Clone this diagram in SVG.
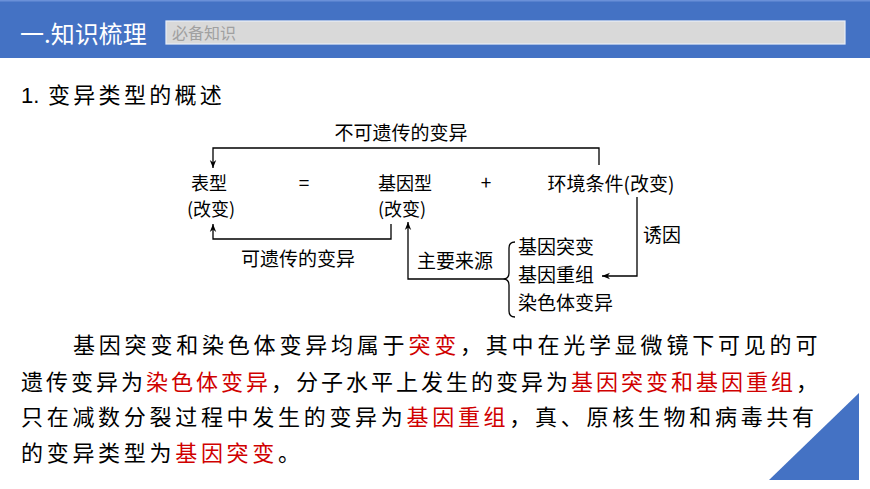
<svg xmlns="http://www.w3.org/2000/svg" width="870" height="489" viewBox="0 0 870 489">
<style>
.cjk{font-family:"Noto Sans CJK SC","Noto Sans",sans-serif;}
.d{font-family:"Noto Sans CJK SC",sans-serif;font-size:19px;fill:#000;}
.p{font-family:"Noto Sans CJK SC",sans-serif;font-size:22px;fill:#000;}
.r{fill:#D00000;}
.ln{fill:none;stroke:#000;stroke-width:1.3;}
</style>
<defs>
<marker id="ah" viewBox="0 0 10 10" refX="10" refY="5" markerWidth="8" markerHeight="8" markerUnits="userSpaceOnUse" orient="auto">
<path d="M0,1 L10,5 L0,9 L3,5 Z" fill="#000"/>
</marker>
</defs>
<rect x="0" y="0" width="870" height="489" fill="#fff"/>
<g id="header">
<rect x="0" y="0" width="870" height="58" fill="#4472C4"/>
<rect x="0" y="0" width="870" height="1.5" fill="#6A90D8"/>
<text x="20" y="43" class="cjk" font-size="24" fill="#fff">一.知识梳理</text>
<rect x="166" y="21" width="679" height="23" fill="#D9D9D9" stroke="#E8EEF8" stroke-width="1.2"/>
<text x="172" y="39" class="cjk" font-size="16" fill="#A0A0A0">必备知识</text>
</g>
<text x="21" y="103" font-size="22" fill="#000"><tspan font-family="Liberation Sans, sans-serif">1.</tspan><tspan x="48" font-family="Noto Sans CJK SC, sans-serif" letter-spacing="3.3">变异类型的概述</tspan></text>
<g id="connectors">
<polyline class="ln" points="599,165 599,148 213,148 213,168" marker-end="url(#ah)"/>
<polyline class="ln" points="391,224 391,239 213,239 213,224" marker-end="url(#ah)"/>
<polyline class="ln" points="503,279 408,279 408,222" marker-end="url(#ah)"/>
<polyline class="ln" points="637,197 637,276 602,276" marker-end="url(#ah)"/>
<path class="ln" d="M515,242 Q509,242 509,248 L509,273 Q509,279 503,279 Q509,279 509,285 L509,311 Q509,317 515,317"/>
</g>
<g id="label-nonheritable"><text x="401" y="140" class="d" text-anchor="middle">不可遗传的变异</text></g>
<g id="node-phenotype">
<text class="d" text-anchor="middle" font-size="18" style="font-size:18px"><tspan x="209" y="190">表型</tspan><tspan x="211" y="216">(改变)</tspan></text>
</g>
<g id="eq"><text x="304" y="190" class="d" text-anchor="middle">=</text></g>
<g id="node-genotype">
<text class="d" text-anchor="middle" style="font-size:18px"><tspan x="405" y="190">基因型</tspan><tspan x="402" y="216">(改变)</tspan></text>
</g>
<g id="plus"><text x="486" y="190" class="d" text-anchor="middle">+</text></g>
<g id="node-env"><text x="611" y="191" class="d" text-anchor="middle">环境条件(改变)</text></g>
<g id="label-heritable"><text x="298" y="266" class="d" text-anchor="middle">可遗传的变异</text></g>
<g id="label-source"><text x="455" y="268" class="d" text-anchor="middle">主要来源</text></g>
<g id="label-induce"><text x="662" y="242" class="d" text-anchor="middle">诱因</text></g>
<g id="node-sources">
<text x="518" y="254" class="d">基因突变</text>
<text x="518" y="282" class="d">基因重组</text>
<text x="518" y="310" class="d">染色体变异</text>
</g>
<g id="paragraph">
<text x="73" y="353" class="p" style="letter-spacing:3.8px">基因突变和染色体变异均属于<tspan class="r">突变</tspan>，其中在光学显微镜下可见的可</text>
<text x="21" y="390" class="p" style="letter-spacing:3px">遗传变异为<tspan class="r">染色体变异</tspan>，分子水平上发生的变异为<tspan class="r">基因突变和基因重组</tspan>，</text>
<text x="21" y="425" class="p" style="letter-spacing:3.7px">只在减数分裂过程中发生的变异为<tspan class="r">基因重组</tspan>，真、原核生物和病毒共有</text>
<text x="21" y="461" class="p" style="letter-spacing:3.7px">的变异类型为<tspan class="r">基因突变</tspan>。</text>
</g>
<polygon id="corner" points="769,480 859,393 859,480" fill="#4472C4"/>
</svg>
